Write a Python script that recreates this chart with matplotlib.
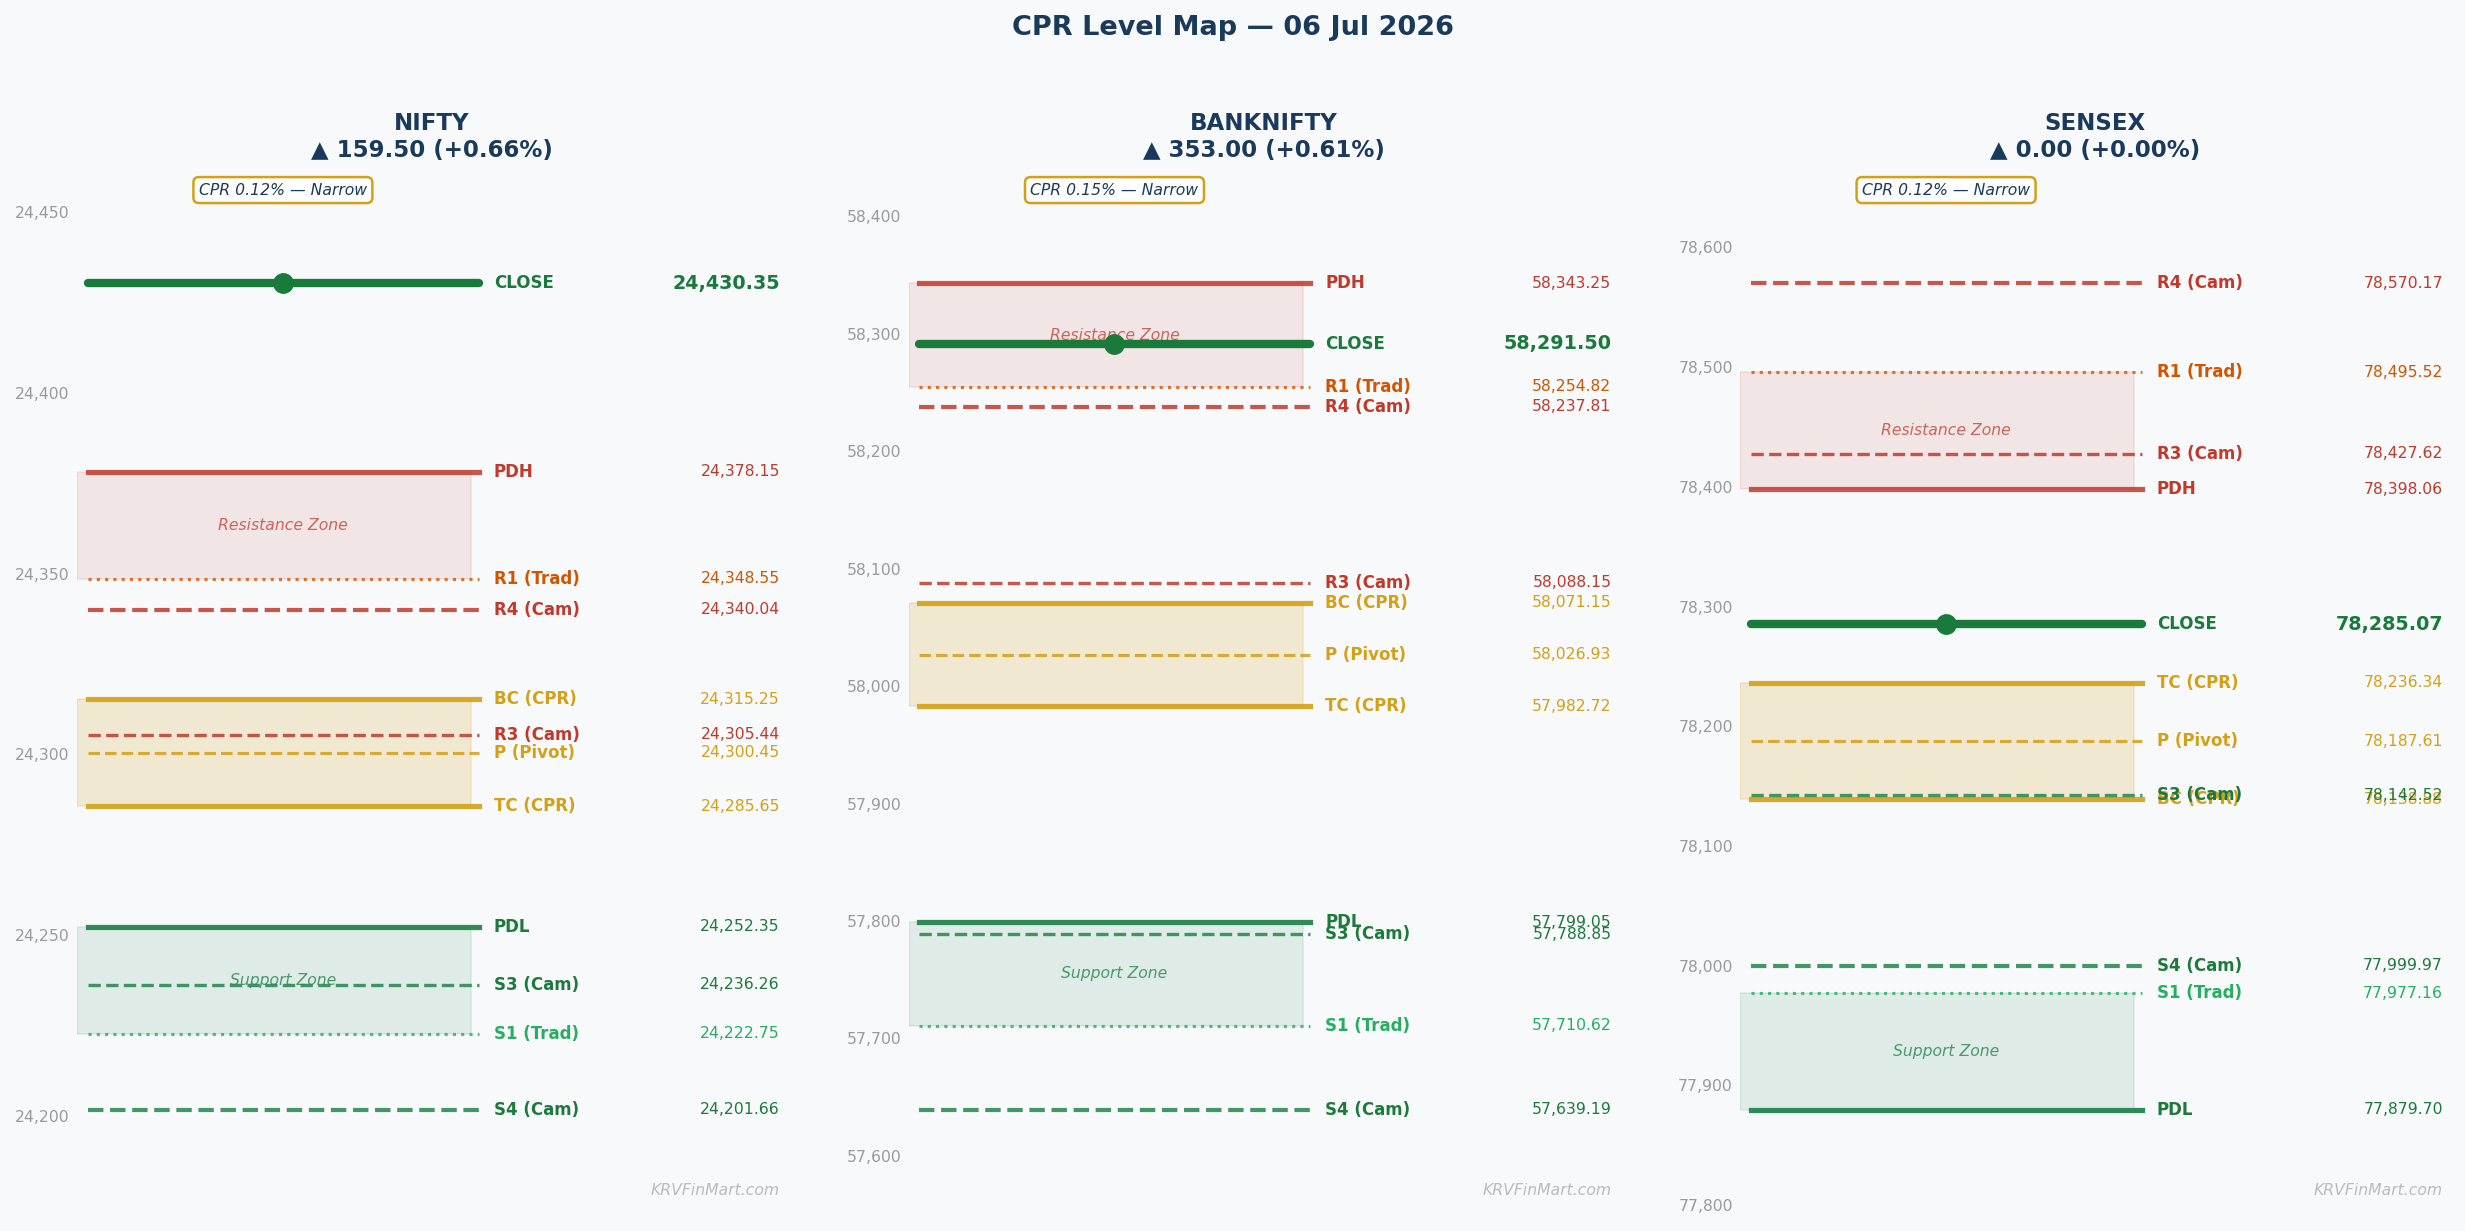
import matplotlib
matplotlib.use("Agg")
import matplotlib.pyplot as plt
from matplotlib.ticker import MultipleLocator, FuncFormatter

# chart data
title = "CPR Level Map — 06 Jul 2026"
indices = ["NIFTY", "BANKNIFTY", "SENSEX"]
changes = [159.50, 353.00, 0.00]
change_pct = [0.66, 0.61, 0.00]
cpr_width = [0.12, 0.15, 0.12]
tick_steps = [50, 100, 100]

level_names = ["CLOSE", "PDH", "PDL", "BC (CPR)", "TC (CPR)", "P (Pivot)",
               "R1 (Trad)", "S1 (Trad)", "R3 (Cam)", "R4 (Cam)", "S3 (Cam)", "S4 (Cam)"]
nifty_levels = [24430.35, 24378.15, 24252.35, 24315.25, 24285.65, 24300.45,
                24348.55, 24222.75, 24305.44, 24340.04, 24236.26, 24201.66]
banknifty_levels = [58291.50, 58343.25, 57799.05, 58071.15, 57982.72, 58026.93,
                    58254.82, 57710.62, 58088.15, 58237.81, 57788.85, 57639.19]
sensex_levels = [78285.07, 78398.06, 77879.70, 78138.88, 78236.34, 78187.61,
                 78495.52, 77977.16, 78427.62, 78570.17, 78142.52, 77999.97]
all_levels = [nifty_levels, banknifty_levels, sensex_levels]

BG = "#f8f9fb"
NAVY = "#1a3a5c"
RED = "#c0392b"
GOLD = "#d4a017"
GREEN = "#2e8b57"
DKGREEN = "#1e7a3c"

# line colour, text colour, linestyle, linewidth, alpha
styles = {
    "CLOSE": ("#1a7a3c", "#1a7a3c", "-", 4.0, 1.0),
    "PDH": (RED, RED, "-", 2.5, 0.85),
    "PDL": (GREEN, DKGREEN, "-", 2.5, 1.0),
    "BC (CPR)": (GOLD, GOLD, "-", 2.5, 0.9),
    "TC (CPR)": (GOLD, GOLD, "-", 2.5, 0.9),
    "P (Pivot)": (GOLD, GOLD, "--", 1.5, 0.85),
    "R1 (Trad)": ("#d35400", "#d35400", ":", 1.5, 0.8),
    "S1 (Trad)": ("#27ae60", "#27ae60", ":", 1.5, 0.8),
    "R3 (Cam)": (RED, RED, "--", 1.6, 0.85),
    "R4 (Cam)": (RED, RED, "--", 2.0, 0.85),
    "S3 (Cam)": (GREEN, DKGREEN, "--", 1.6, 0.9),
    "S4 (Cam)": (GREEN, DKGREEN, "--", 2.0, 0.9),
}

fig = plt.figure(figsize=(2465 / 150, 1231 / 150), dpi=150, facecolor=BG)
fig.text(0.5, 0.977, title, ha="center", va="center", fontsize=13,
         fontweight="bold", color=NAVY)

left, pitch, width = 0.03124, 0.33736, 0.28803
bottom, height = 0.0179, 0.8327
x0, x1, xmid = 0.015, 0.566, 0.29
zone_x1 = 0.555

for i, name in enumerate(indices):
    lv = dict(zip(level_names, all_levels[i]))
    ax = fig.add_axes([left + i * pitch, bottom, width, height])
    ax.set_facecolor(BG)
    lo, hi = min(all_levels[i]), max(all_levels[i])
    pad = 0.12 * (hi - lo)
    ax.set_ylim(lo - pad, hi + pad)
    ax.set_xlim(0, 1)
    for s in ax.spines.values():
        s.set_visible(False)
    ax.set_xticks([])
    ax.yaxis.set_major_locator(MultipleLocator(tick_steps[i]))
    ax.yaxis.set_major_formatter(FuncFormatter(lambda v, p: f"{v:,.0f}"))
    ax.tick_params(axis="y", length=0, labelsize=7.5, labelcolor="#9a9a9a", pad=3.5)

    # zones
    r_lo, r_hi = sorted([lv["R1 (Trad)"], lv["PDH"]])
    ax.fill_between([0, zone_x1], r_lo, r_hi, facecolor=RED, alpha=0.1,
                    edgecolor=RED, linewidth=0.8, zorder=1)
    ax.text(xmid, (r_lo + r_hi) / 2, "Resistance Zone", ha="center", va="center",
            fontsize=7.5, style="italic", color=RED, alpha=0.75, zorder=2)
    c_lo, c_hi = sorted([lv["BC (CPR)"], lv["TC (CPR)"]])
    ax.fill_between([0, zone_x1], c_lo, c_hi, facecolor=GOLD, alpha=0.18,
                    edgecolor=GOLD, linewidth=0.8, zorder=1)
    s_lo, s_hi = sorted([lv["S1 (Trad)"], lv["PDL"]])
    ax.fill_between([0, zone_x1], s_lo, s_hi, facecolor=GREEN, alpha=0.12,
                    edgecolor=GREEN, linewidth=0.8, zorder=1)
    ax.text(xmid, (s_lo + s_hi) / 2, "Support Zone", ha="center", va="center",
            fontsize=7.5, style="italic", color=GREEN, alpha=0.85, zorder=2)

    for lname in level_names:
        v = lv[lname]
        lc, tc, ls, lw, al = styles[lname]
        if lname == "CLOSE":
            ax.plot([x0, x1], [v, v], color=lc, lw=lw, solid_capstyle="round", zorder=5)
            ax.plot([xmid], [v], "o", color=lc, ms=9, zorder=6)
            ax.text(0.587, v, lname, ha="left", va="center", fontsize=8,
                    fontweight="bold", color=tc, zorder=7)
            ax.text(0.99, v, f"{v:,.2f}", ha="right", va="center", fontsize=9.2,
                    fontweight="bold", color=tc, zorder=7)
        else:
            ax.plot([x0, x1], [v, v], color=lc, ls=ls, lw=lw, alpha=al, zorder=4)
            ax.text(0.587, v, lname, ha="left", va="center", fontsize=8,
                    fontweight="bold", color=tc, zorder=7)
            ax.text(0.99, v, f"{v:,.2f}", ha="right", va="center", fontsize=7.5,
                    color=tc, zorder=7)

    ax.set_title(f"{name}\n▲ {changes[i]:.2f} (+{change_pct[i]:.2f}%)",
                 fontsize=11, fontweight="bold", color=NAVY, pad=13)
    ax.text(xmid, 0.994, f"CPR {cpr_width[i]:.2f}% — Narrow", transform=ax.transAxes,
            ha="center", va="center", fontsize=7.5, style="italic", color=NAVY,
            bbox=dict(boxstyle="round,pad=0.35", facecolor="white", edgecolor=GOLD,
                      linewidth=1.2), zorder=8)
    ax.text(0.99, 0.018, "KRVFinMart.com", transform=ax.transAxes, ha="right",
            va="center", fontsize=7.5, style="italic", color="#bbbbbb")

fig.savefig("out.png", dpi=150, facecolor=BG)
